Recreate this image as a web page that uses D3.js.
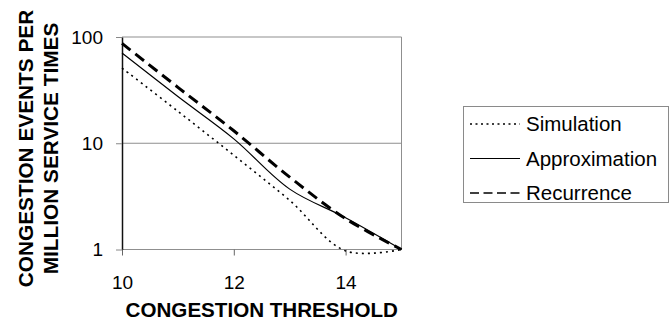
<!DOCTYPE html>
<html>
<head>
<meta charset="utf-8">
<script src="https://cdn.jsdelivr.net/npm/d3@7"></script>
<style>
  body { margin: 0; background: #fff; }
  svg { display: block; font-family: "Liberation Sans", Arial, sans-serif; }
</style>
</head>
<body>
<svg id="chart" width="672" height="325"></svg>
<script>
// thresholds on the x axis
const thresholds = [10, 11, 12, 13, 14, 15];

// congestion events per million service times
const simulation    = [51, 20, 7.7, 2.9, 0.97, 1.0];
const approximation = [70.7, 27.5, 11, 3.7, 1.99, 1.0];
const recurrence    = [87, 33.6, 13.1, 4.8, 1.95, 1.0];

const yTicks = [1, 10, 100];
const xTicks = [10, 12, 14];

const seriesNames = ["Simulation", "Approximation", "Recurrence"];

const svg = d3.select("#chart");

const x = d3.scaleLinear().domain([10, 15]).range([122, 401.5]);
const y = d3.scaleLog().domain([1, 100]).range([249.5, 37]);

// gridlines
svg.append("g")
  .selectAll("line")
  .data(yTicks)
  .join("line")
  .attr("x1", x(10)).attr("x2", x(15))
  .attr("y1", d => y(d)).attr("y2", d => y(d))
  .attr("stroke", "#8f8f8f")
  .attr("stroke-width", 1);

// right border of plot area
svg.append("line")
  .attr("x1", x(15)).attr("x2", x(15))
  .attr("y1", y(100)).attr("y2", y(1))
  .attr("stroke", "#8f8f8f");

// axes
const yAxis = svg.append("g")
  .attr("transform", `translate(${x(10)},0)`)
  .call(d3.axisLeft(y).tickValues(yTicks).tickFormat(d3.format("d"))
    .tickSize(6).tickSizeOuter(0).tickPadding(13));
yAxis.select(".domain").attr("stroke", "#111").attr("stroke-width", 1.5);
yAxis.selectAll(".tick line").attr("stroke", "#888");
yAxis.selectAll("text").attr("font-size", 19).attr("fill", "#000")
  .attr("font-family", '"Liberation Sans", Arial, sans-serif');

const xAxis = svg.append("g")
  .attr("transform", `translate(0,${y(1)})`)
  .call(d3.axisBottom(x).tickValues(xTicks).tickFormat(d3.format("d"))
    .tickSize(6).tickSizeOuter(0).tickPadding(20));
xAxis.select(".domain").remove();
xAxis.selectAll(".tick line").attr("stroke", "#666");
xAxis.selectAll("text").attr("font-size", 19).attr("fill", "#000")
  .attr("font-family", '"Liberation Sans", Arial, sans-serif');

// series lines (smoothed, like the original spreadsheet chart)
const styles = {
  Simulation:    { width: 1.6, dash: "2,4" },
  Approximation: { width: 1.2, dash: null },
  Recurrence:    { width: 3,   dash: "11,6" }
};
const values = { Simulation: simulation, Approximation: approximation, Recurrence: recurrence };

seriesNames.forEach(name => {
  const st = styles[name];
  const line = d3.line()
    .x((d, i) => x(thresholds[i]))
    .y(d => y(d))
    .curve(d3.curveCatmullRom);
  svg.append("path")
    .datum(values[name])
    .attr("d", line)
    .attr("fill", "none")
    .attr("stroke", "#000")
    .attr("stroke-width", st.width)
    .attr("stroke-dasharray", st.dash);
});

// axis titles
svg.append("text")
  .attr("x", (x(10) + x(15)) / 2)
  .attr("y", 317)
  .attr("text-anchor", "middle")
  .attr("font-size", 20.6)
  .attr("font-weight", "bold")
  .text("CONGESTION THRESHOLD");

const yTitle = ["CONGESTION EVENTS PER", "MILLION SERVICE TIMES"];
svg.append("g")
  .selectAll("text")
  .data(yTitle)
  .join("text")
  .attr("transform", (d, i) => `translate(${33 + i * 25},148.5) rotate(-90)`)
  .attr("text-anchor", "middle")
  .attr("font-size", 20.8)
  .attr("font-weight", "bold")
  .text(d => d);

// legend
const legend = svg.append("g");
legend.append("rect")
  .attr("x", 463.5).attr("y", 106.5)
  .attr("width", 205).attr("height", 96)
  .attr("fill", "#fff")
  .attr("stroke", "#8a8a8a");

const legendY = d3.scalePoint().domain(seriesNames).range([131, 200]);
const legendStyles = {
  Simulation:    { width: 1.3, dash: "2,3.5" },
  Approximation: { width: 1.1, dash: null },
  Recurrence:    { width: 1.4, dash: "9,4.5" }
};

seriesNames.forEach(name => {
  const by = legendY(name);
  legend.append("line")
    .attr("x1", 470).attr("x2", 520)
    .attr("y1", by - 7).attr("y2", by - 7)
    .attr("stroke", "#000")
    .attr("stroke-width", legendStyles[name].width)
    .attr("stroke-dasharray", legendStyles[name].dash);
  legend.append("text")
    .attr("x", 526)
    .attr("y", by)
    .attr("font-size", 20.5)
    .text(name);
});
</script>
</body>
</html>
